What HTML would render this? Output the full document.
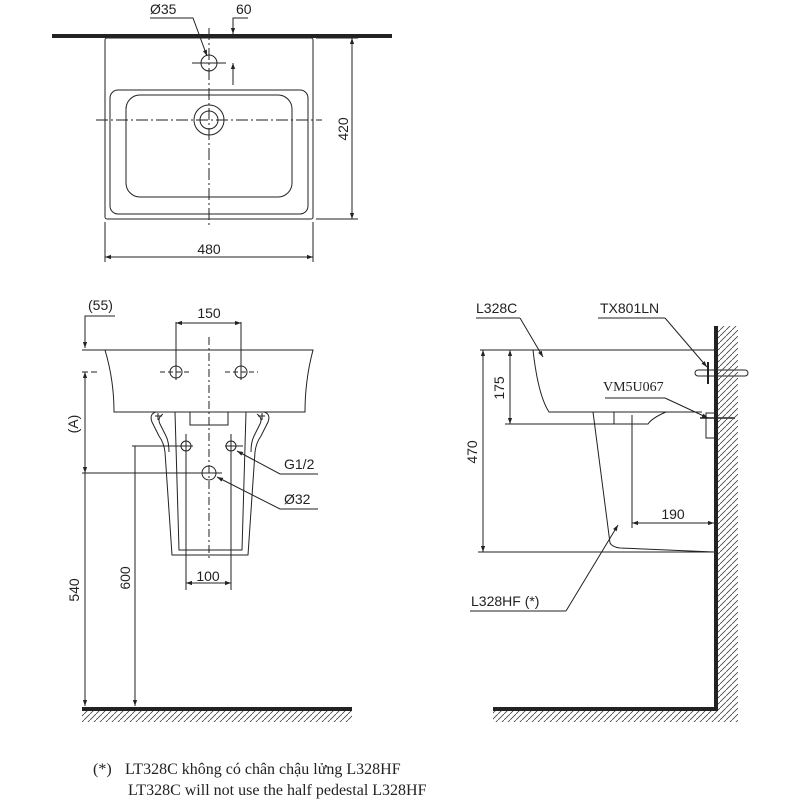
<!DOCTYPE html>
<html><head><meta charset="utf-8"><style>
html,body{margin:0;padding:0;background:#fff}
svg{display:block}
text{font-family:"Liberation Sans",sans-serif;font-size:14px;fill:#222}
.s{font-family:"Liberation Serif",serif}
</style></head><body>
<svg width="800" height="800" viewBox="0 0 800 800" xmlns="http://www.w3.org/2000/svg">
<defs>
<marker id="a" viewBox="0 0 10 10" refX="10" refY="5" markerWidth="10" markerHeight="6" orient="auto-start-reverse"><path d="M0,1.5 L10,5 L0,8.5z" fill="#222"/></marker>
<pattern id="h" width="6" height="6" patternUnits="userSpaceOnUse"><path d="M0,6 L6,0" stroke="#444" stroke-width="0.8"/></pattern>
</defs>
<g fill="none" stroke="#222" stroke-width="1">
<!-- TOP VIEW -->
<line x1="52" y1="36" x2="392" y2="36" stroke-width="4"/>
<rect x="105" y="38" width="208" height="181" rx="2"/>
<rect x="110" y="90" width="198" height="124" rx="8"/>
<rect x="126" y="95" width="166" height="102" rx="14"/>
<circle cx="209" cy="120" r="15"/><circle cx="209" cy="120" r="9"/>
<circle cx="209" cy="63" r="8"/>
<line x1="209" y1="28" x2="209" y2="228" stroke-dasharray="12,3,2,3"/>
<line x1="96" y1="120" x2="322" y2="120" stroke-dasharray="12,3,2,3"/>
<line x1="192" y1="63" x2="226" y2="63"/>
<line x1="105" y1="222" x2="105" y2="262"/><line x1="313" y1="222" x2="313" y2="262"/>
<line x1="105" y1="257" x2="313" y2="257" marker-start="url(#a)" marker-end="url(#a)"/>
<line x1="316" y1="38" x2="358" y2="38"/><line x1="316" y1="219" x2="358" y2="219"/>
<line x1="352" y1="38" x2="352" y2="219" marker-start="url(#a)" marker-end="url(#a)"/>
<polyline points="150,18 193,18 207,56" marker-end="url(#a)"/>
<polyline points="248,18 233,18 233,34" marker-end="url(#a)"/>
<line x1="233" y1="85" x2="233" y2="63" marker-end="url(#a)"/>
<!-- FRONT VIEW -->
<path d="M105,350 L313,350 Q305,380 305,412 L114,412 Q114,380 105,350z"/>
<circle cx="176" cy="372" r="6"/><circle cx="241" cy="372" r="6"/>
<line x1="160" y1="372" x2="192" y2="372" stroke-dasharray="5,3"/><line x1="225" y1="372" x2="258" y2="372" stroke-dasharray="5,3"/>
<line x1="176" y1="322" x2="176" y2="380"/><line x1="241" y1="322" x2="241" y2="380"/>
<line x1="176" y1="323" x2="241" y2="323" marker-start="url(#a)" marker-end="url(#a)"/>
<line x1="209" y1="337" x2="209" y2="560" stroke-dasharray="8,3,2,3"/>
<polyline points="115,316 85,316 85,348" marker-end="url(#a)"/>
<line x1="82" y1="350" x2="105" y2="350"/>
<line x1="82" y1="372" x2="100" y2="372" stroke-dasharray="6,3"/>
<line x1="85" y1="372" x2="85" y2="473" marker-start="url(#a)" marker-end="url(#a)"/>
<line x1="85" y1="473" x2="85" y2="706" marker-end="url(#a)"/>
<line x1="82" y1="473" x2="222" y2="473"/>
<line x1="135" y1="446" x2="135" y2="706" marker-end="url(#a)"/>
<line x1="132" y1="446" x2="193" y2="446"/>
<path d="M166,412 L156,412 Q149,414 152,422 L159,436 Q164,443 165,452 L172,555 L248,555 L255,452 Q256,443 261,436 L268,422 Q271,414 264,412 L254,412"/>
<path d="M163,414 Q157,418 160,424 L166,436 Q169,442 169,452"/>
<path d="M257,414 Q263,418 260,424 L254,436 Q251,442 251,452"/>
<path d="M175,412 L179,550 L242,550 L246,412"/>
<line x1="155" y1="416" x2="162" y2="416"/><line x1="158" y1="413" x2="158" y2="420"/>
<line x1="258" y1="416" x2="265" y2="416"/><line x1="262" y1="413" x2="262" y2="420"/>
<rect x="190" y="412" width="38" height="13"/>
<circle cx="186" cy="446" r="5"/><circle cx="231" cy="446" r="5"/>
<line x1="186" y1="434" x2="186" y2="590"/><line x1="231" y1="434" x2="231" y2="590"/>
<line x1="225" y1="446" x2="243" y2="446"/>
<circle cx="209" cy="473" r="7"/>
<line x1="186" y1="583" x2="231" y2="583" marker-start="url(#a)" marker-end="url(#a)"/>
<polyline points="318,474 280,474 237,451" marker-end="url(#a)"/>
<polyline points="318,509 280,509 217,477" marker-end="url(#a)"/>
<line x1="82" y1="709" x2="352" y2="709" stroke-width="4"/>
<!-- SIDE VIEW -->
<line x1="716" y1="326" x2="716" y2="711" stroke-width="4"/>
<line x1="493" y1="709" x2="718" y2="709" stroke-width="4"/>
<line x1="480" y1="350" x2="714" y2="350"/>
<path d="M533,350 Q538,395 549,412 L702,412"/>
<path d="M505,424 L648,424 Q652,418 666,412"/>
<line x1="614" y1="412" x2="614" y2="424"/>
<path d="M593,412 L610,543 Q612,547 620,548 L714,552"/>
<line x1="478" y1="552" x2="714" y2="552"/>
<line x1="483" y1="350" x2="483" y2="552" marker-start="url(#a)" marker-end="url(#a)"/>
<line x1="510" y1="350" x2="510" y2="424" marker-start="url(#a)" marker-end="url(#a)"/>
<line x1="632" y1="415" x2="632" y2="528"/>
<line x1="632" y1="523" x2="714" y2="523" marker-start="url(#a)" marker-end="url(#a)"/>
<line x1="476" y1="318" x2="520" y2="318"/>
<line x1="520" y1="318" x2="543" y2="357" marker-end="url(#a)"/>
<line x1="598" y1="318" x2="665" y2="318"/>
<line x1="665" y1="318" x2="707" y2="367" marker-end="url(#a)"/>
<line x1="605" y1="398" x2="665" y2="398"/>
<line x1="665" y1="398" x2="708" y2="418" marker-end="url(#a)"/>
<rect x="706" y="413" width="10" height="25"/>
<line x1="700" y1="418" x2="735" y2="418" stroke-width="1.5"/>
<rect x="695" y="370" width="53" height="6" rx="3"/>
<line x1="708" y1="362" x2="708" y2="384" stroke-width="2"/>
<line x1="470" y1="611" x2="566" y2="611"/>
<line x1="566" y1="611" x2="618" y2="525" marker-end="url(#a)"/>
</g>
<rect x="718" y="326" width="20" height="385" fill="url(#h)"/>
<rect x="82" y="711" width="270" height="11" fill="url(#h)"/>
<rect x="493" y="711" width="245" height="11" fill="url(#h)"/>
<text x="150" y="14">Ø35</text>
<text x="236" y="14">60</text>
<text x="209" y="254" text-anchor="middle">480</text>
<text transform="translate(348,129) rotate(-90)" text-anchor="middle">420</text>
<text x="88" y="310">(55)</text>
<text x="209" y="318" text-anchor="middle">150</text>
<text transform="translate(78,424) rotate(-90)" text-anchor="middle">(A)</text>
<text transform="translate(79,590) rotate(-90)" text-anchor="middle">540</text>
<text transform="translate(130,578) rotate(-90)" text-anchor="middle">600</text>
<text x="208" y="581" text-anchor="middle">100</text>
<text x="284" y="469">G1/2</text>
<text x="284" y="504">Ø32</text>
<text x="476" y="313">L328C</text>
<text x="600" y="313">TX801LN</text>
<text x="603" y="391" class="s">VM5U067</text>
<text transform="translate(504,388) rotate(-90)" text-anchor="middle">175</text>
<text transform="translate(477,452) rotate(-90)" text-anchor="middle">470</text>
<text x="673" y="519" text-anchor="middle">190</text>
<text x="471" y="606">L328HF (*)</text>
<text x="93" y="774" class="s" style="font-size:16px">(*)</text>
<text x="125" y="774" class="s" style="font-size:16px">LT328C không có chân chậu lửng L328HF</text>
<text x="128" y="795" class="s" style="font-size:16px">LT328C will not use the half pedestal L328HF</text>
</svg>
</body></html>
